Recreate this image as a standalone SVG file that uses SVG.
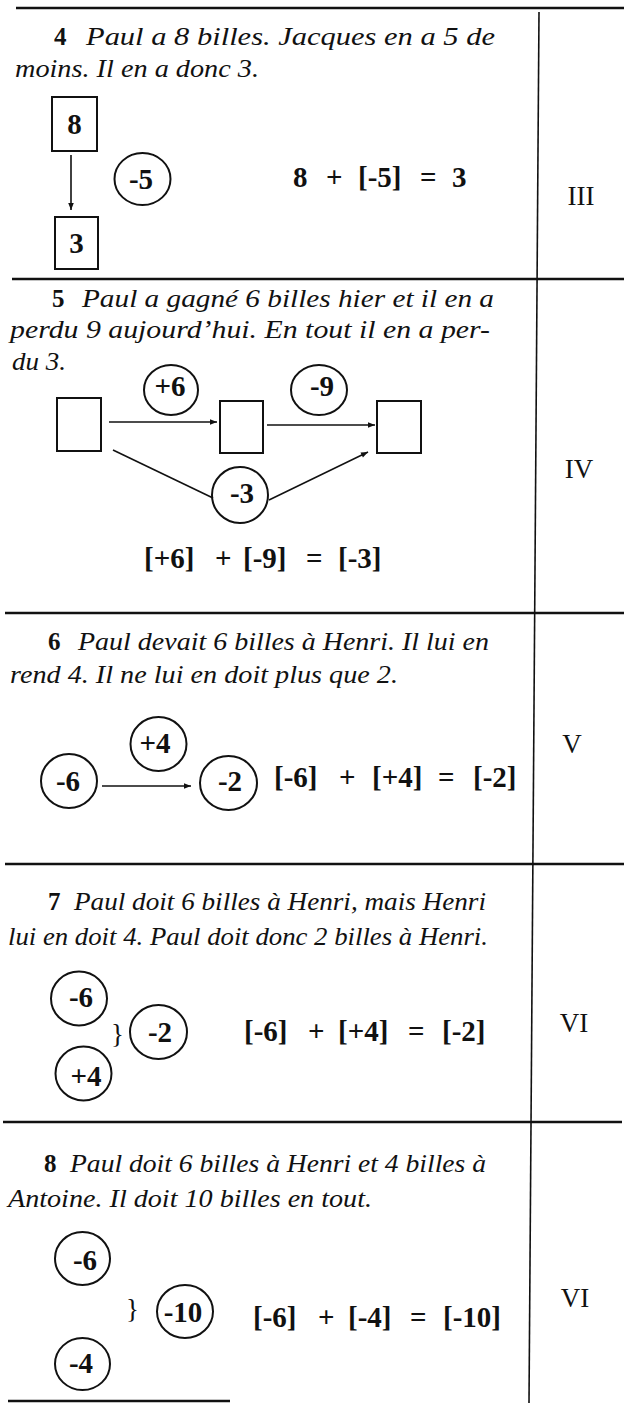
<svg xmlns="http://www.w3.org/2000/svg" width="624" height="1403" viewBox="0 0 624 1403">
<style>
  .it { font-family: "Liberation Serif", "Times New Roman", serif; font-style: italic; font-size: 25px; fill: #111; }
  .num { font-family: "Liberation Serif", "Times New Roman", serif; font-weight: bold; font-size: 25px; fill: #111; }
  .eq { font-family: "Liberation Serif", "Times New Roman", serif; font-weight: bold; font-size: 29px; fill: #111; }
  .lbl { font-family: "Liberation Serif", "Times New Roman", serif; font-weight: bold; font-size: 29px; fill: #111; text-anchor: middle; }
  .rom { font-family: "Liberation Serif", "Times New Roman", serif; font-size: 27px; fill: #111; text-anchor: middle; }
  .shape { fill: none; stroke: #111; stroke-width: 2; }
  .conn { fill: none; stroke: #111; stroke-width: 1.6; }
  .rule { fill: none; stroke: #111; stroke-width: 2.5; }
  .vrule { fill: none; stroke: #111; stroke-width: 1.6; }
</style>
<defs>
  <marker id="arr" viewBox="0 0 10 10" refX="10" refY="5" markerWidth="8" markerHeight="7" markerUnits="userSpaceOnUse" orient="auto">
    <path d="M0,1 L10,5 L0,9 Z" fill="#111"/>
  </marker>
</defs>
<rect width="624" height="1403" fill="#fff"/>

<g id="rules">
  <line class="rule" x1="16" y1="8" x2="624" y2="8"/>
  <line class="rule" x1="12" y1="279" x2="624" y2="279"/>
  <line class="rule" x1="5" y1="613" x2="624" y2="613"/>
  <line class="rule" x1="5" y1="864" x2="624" y2="864"/>
  <line class="rule" x1="3" y1="1122" x2="622" y2="1122"/>
  <line class="rule" x1="8" y1="1401" x2="230" y2="1401"/>
  <line class="vrule" x1="539" y1="12" x2="529" y2="1403"/>
</g>

<g id="roman">
  <text class="rom" x="581" y="205">III</text>
  <text class="rom" x="579" y="478">IV</text>
  <text class="rom" x="572" y="753">V</text>
  <text class="rom" x="574" y="1032">VI</text>
  <text class="rom" x="575" y="1307">VI</text>
</g>

<g id="section4">
  <text class="num" x="54" y="45">4</text>
  <text class="it" x="86" y="45" textLength="409" lengthAdjust="spacingAndGlyphs">Paul a 8 billes. Jacques en a 5 de</text>
  <text class="it" x="15" y="77" textLength="244" lengthAdjust="spacingAndGlyphs">moins. Il en a donc 3.</text>
  <g id="box-8"><rect class="shape" x="52" y="97" width="45" height="54"/><text class="lbl" x="74.5" y="134">8</text></g>
  <g id="box-3"><rect class="shape" x="55" y="217" width="43" height="52"/><text class="lbl" x="76.5" y="253">3</text></g>
  <g id="op-m5"><ellipse class="shape" cx="142.5" cy="179" rx="28" ry="26"/><text class="lbl" x="141" y="189">-5</text></g>
  <text class="eq" y="187"><tspan x="293">8</tspan><tspan x="326">+</tspan><tspan x="358">[-5]</tspan><tspan x="420">=</tspan><tspan x="452">3</tspan></text>
</g>

<g id="section5">
  <text class="num" x="52" y="307">5</text>
  <text class="it" x="82" y="307" textLength="412" lengthAdjust="spacingAndGlyphs">Paul a gagné 6 billes hier et il en a</text>
  <text class="it" x="10" y="338" textLength="480" lengthAdjust="spacingAndGlyphs">perdu 9 aujourd’hui. En tout il en a per-</text>
  <text class="it" x="12" y="370" textLength="54" lengthAdjust="spacingAndGlyphs">du 3.</text>
  <g id="box-a"><rect class="shape" x="57" y="398" width="44" height="53"/></g>
  <g id="box-b"><rect class="shape" x="220" y="401" width="43" height="52"/></g>
  <g id="box-c"><rect class="shape" x="377" y="401" width="44" height="52"/></g>
  <g id="op-p6"><ellipse class="shape" cx="171" cy="390" rx="27" ry="25"/><text class="lbl" x="170" y="396">+6</text></g>
  <g id="op-m9"><ellipse class="shape" cx="319" cy="390" rx="28" ry="25"/><text class="lbl" x="322" y="396">-9</text></g>
  <g id="op-m3"><ellipse class="shape" cx="240" cy="495" rx="28" ry="28"/><text class="lbl" x="242" y="503">-3</text></g>
  <text class="eq" y="568"><tspan x="144">[+6]</tspan><tspan x="215">+</tspan><tspan x="243">[-9]</tspan><tspan x="306">=</tspan><tspan x="338">[-3]</tspan></text>
</g>

<g id="section6">
  <text class="num" x="48" y="650">6</text>
  <text class="it" x="78" y="650" textLength="411" lengthAdjust="spacingAndGlyphs">Paul devait 6 billes à Henri. Il lui en</text>
  <text class="it" x="10" y="683" textLength="388" lengthAdjust="spacingAndGlyphs">rend 4. Il ne lui en doit plus que 2.</text>
  <g id="st-m6a"><ellipse class="shape" cx="69" cy="781" rx="28" ry="27"/><text class="lbl" x="68" y="791">-6</text></g>
  <g id="op-p4a"><ellipse class="shape" cx="158.5" cy="744" rx="28" ry="27"/><text class="lbl" x="155" y="753">+4</text></g>
  <g id="st-m2a"><ellipse class="shape" cx="228.5" cy="783" rx="28.5" ry="27"/><text class="lbl" x="230" y="791">-2</text></g>
  <text class="eq" y="787"><tspan x="274">[-6]</tspan><tspan x="339">+</tspan><tspan x="372">[+4]</tspan><tspan x="438">=</tspan><tspan x="473">[-2]</tspan></text>
</g>

<g id="section7">
  <text class="num" x="48" y="910">7</text>
  <text class="it" x="74" y="910" textLength="412" lengthAdjust="spacingAndGlyphs">Paul doit 6 billes à Henri, mais Henri</text>
  <text class="it" x="8" y="945" textLength="480" lengthAdjust="spacingAndGlyphs">lui en doit 4. Paul doit donc 2 billes à Henri.</text>
  <g id="st-m6b"><ellipse class="shape" cx="79" cy="998.5" rx="28" ry="27"/><text class="lbl" x="81" y="1007">-6</text></g>
  <g id="st-p4b"><ellipse class="shape" cx="83.5" cy="1073.5" rx="28" ry="27"/><text class="lbl" x="86" y="1086">+4</text></g>
  <text class="rom" x="117.5" y="1043">}</text>
  <g id="st-m2b"><ellipse class="shape" cx="158.5" cy="1032" rx="28.5" ry="27"/><text class="lbl" x="160" y="1042">-2</text></g>
  <text class="eq" y="1041"><tspan x="244">[-6]</tspan><tspan x="308">+</tspan><tspan x="338">[+4]</tspan><tspan x="408">=</tspan><tspan x="442">[-2]</tspan></text>
</g>

<g id="section8">
  <text class="num" x="44" y="1172">8</text>
  <text class="it" x="70" y="1172" textLength="416" lengthAdjust="spacingAndGlyphs">Paul doit 6 billes à Henri et 4 billes à</text>
  <text class="it" x="8" y="1207" textLength="364" lengthAdjust="spacingAndGlyphs">Antoine. Il doit 10 billes en tout.</text>
  <g id="st-m6c"><ellipse class="shape" cx="82.5" cy="1258.5" rx="27.5" ry="26.5"/><text class="lbl" x="85" y="1270">-6</text></g>
  <g id="st-m4c"><ellipse class="shape" cx="82.5" cy="1364" rx="27.5" ry="26"/><text class="lbl" x="81" y="1373">-4</text></g>
  <text class="rom" x="132.5" y="1318">}</text>
  <g id="st-m10c"><ellipse class="shape" cx="185" cy="1311.5" rx="28" ry="26.5"/><text class="lbl" x="183" y="1322">-10</text></g>
  <text class="eq" y="1327"><tspan x="253">[-6]</tspan><tspan x="318">+</tspan><tspan x="348">[-4]</tspan><tspan x="410">=</tspan><tspan x="443">[-10]</tspan></text>
</g>

<g id="connectors">
  <line class="conn" x1="71" y1="155" x2="71" y2="210" marker-end="url(#arr)"/>
  <line class="conn" x1="109" y1="422" x2="217" y2="422" marker-end="url(#arr)"/>
  <line class="conn" x1="267" y1="425" x2="375" y2="425" marker-end="url(#arr)"/>
  <line class="conn" x1="113" y1="450" x2="213" y2="498"/>
  <line class="conn" x1="269" y1="500" x2="368" y2="452" marker-end="url(#arr)"/>
  <line class="conn" x1="102" y1="786" x2="191" y2="786" marker-end="url(#arr)"/>
</g>
</svg>
